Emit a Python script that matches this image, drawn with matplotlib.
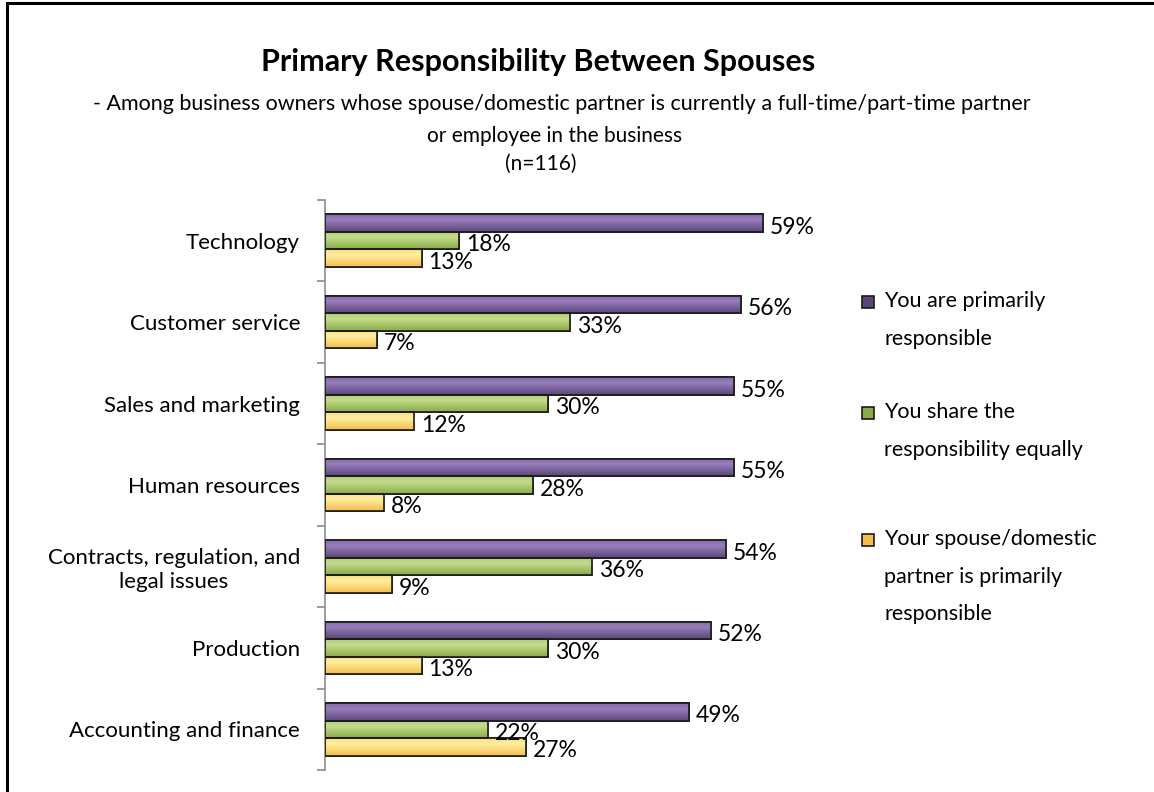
import numpy as np
import matplotlib
matplotlib.use('Agg')
import matplotlib.pyplot as plt
from matplotlib.patches import Rectangle
from matplotlib.colors import to_rgb

plt.rcParams['font.family'] = ['Lato', 'DejaVu Sans']

categories = ['Technology', 'Customer service', 'Sales and marketing', 'Human resources',
              'Contracts, regulation, and\nlegal issues', 'Production', 'Accounting and finance']
series_names = ['You are primarily\nresponsible',
                'You share the\nresponsibility equally',
                'Your spouse/domestic\npartner is primarily\nresponsible']
you_primary = [59, 56, 55, 55, 54, 52, 49]
shared = [18, 33, 30, 28, 36, 30, 22]
spouse_primary = [13, 7, 12, 8, 9, 13, 27]

# (light, dark) shade for each series
shades = [('#9a7fbf', '#5b4678'), ('#c6de8e', '#8aab48'), ('#fff0a0', '#f3bd4e')]

W, H = 1154, 792
fig = plt.figure(figsize=(W / 100, H / 100), dpi=100)
ax = fig.add_axes([325 / W, 1 - 770 / H, 520 / W, 570 / H])

y = np.arange(len(categories))
bh = 0.215


def gradient(light, dark, n=64):
    l, d = np.array(to_rgb(light)), np.array(to_rgb(dark))
    t = np.linspace(0, 1, n)
    # bright band near the top, darker towards the bottom
    w = np.clip(np.where(t < 0.3, 0.35 - t, (t - 0.3) / 0.7), 0, 1)[:, None]
    return (l * (1 - w) + d * w)[:, None, :]


all_series = [you_primary, shared, spouse_primary]
for i, vals in enumerate(all_series):
    light, dark = shades[i]
    pos = y + (i - 1) * bh
    bars = ax.barh(pos, vals, height=bh, color=dark, edgecolor='#1a1a1a', linewidth=1.2, zorder=2)
    grad = gradient(light, dark)
    for b, v, p in zip(bars, vals, pos):
        im = ax.imshow(grad, extent=(0, v, p + bh / 2, p - bh / 2), origin='upper',
                       aspect='auto', zorder=2.5, interpolation='bilinear')
        im.set_clip_path(b)
        ax.add_patch(Rectangle((0, p - bh / 2), v, bh, fill=False, edgecolor='#1a1a1a',
                               linewidth=1.2, zorder=3))
        ax.annotate(f'{v}%', (v, p), xytext=(5, -3), textcoords='offset points',
                    va='center', ha='left', fontsize=16.5, color='black', zorder=4)

ax.set_xlim(0, 70)
ax.set_ylim(len(categories) - 0.5, -0.5)
ax.set_yticks(y)
ax.set_yticklabels(categories, fontsize=16, multialignment='center')
ax.tick_params(axis='y', which='major', length=0, pad=18)
ax.set_yticks(np.arange(-0.5, len(categories)), minor=True)
ax.tick_params(axis='y', which='minor', length=6, width=1.2, color='#8c8c8c', direction='out')
ax.set_xticks([])
for s in ['top', 'right', 'bottom']:
    ax.spines[s].set_visible(False)
ax.spines['left'].set_color('#8c8c8c')
ax.spines['left'].set_linewidth(1.2)

# titles
fig.text(538 / W, 1 - 62 / H, 'Primary Responsibility Between Spouses', ha='center', va='center',
         fontsize=22, fontweight='bold')
fig.text(562 / W, 1 - 104 / H,
         '- Among business owners whose spouse/domestic partner is currently a full-time/part-time partner',
         ha='center', va='center', fontsize=15.5)
fig.text(555 / W, 1 - 136 / H, 'or employee in the business', ha='center', va='center', fontsize=15)
fig.text(541 / W, 1 - 164 / H, '(n=116)', ha='center', va='center', fontsize=15)

# legend, one square per series with wrapped text
leg_tops = [302, 413, 540]
for i, name in enumerate(series_names):
    light, dark = shades[i]
    yc = 1 - leg_tops[i] / H
    sq = Rectangle((862 / W, yc - 6 / H), 12 / W, 12 / H, transform=fig.transFigure,
                   facecolor=dark, edgecolor='#1a1a1a', linewidth=1.2)
    fig.patches.append(sq)
    fig.text(884 / W, yc + 11 / H, name, ha='left', va='top', fontsize=15.5, linespacing=2.1)

# outer frame
fig.patches.append(Rectangle((7 / W, -0.2), 1.2, 1.2 - 3.5 / H, transform=fig.transFigure,
                             fill=False, edgecolor='black', linewidth=2.2))

fig.savefig('out.png', dpi=100)
